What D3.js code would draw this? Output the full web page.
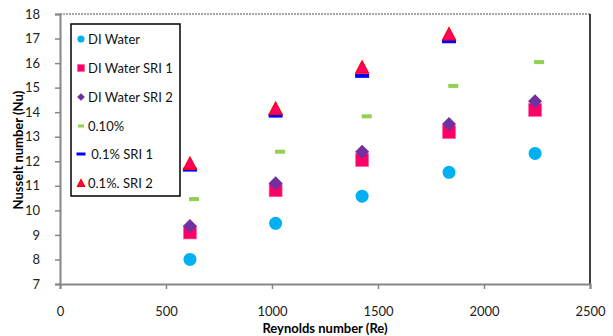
<!DOCTYPE html>
<html>
<head>
<meta charset="utf-8">
<script src="https://cdn.jsdelivr.net/npm/d3@7"></script>
<style>
  body { margin:0; background:#fff; }
  text { font-family: Lato, "Open Sans", sans-serif; }
</style>
</head>
<body>
<svg id="svg1"></svg>
<script>
var W = 613, H = 336;
var margin = {left:60, right:23, top:14, bottom:52};

// Reynolds numbers (x) per series
var reBase = [613, 1017, 1425, 1835, 2241];
var reOffset = [632, 1038, 1447, 1855, 2260];

// Nusselt numbers
var diWater    = [8.0, 9.47, 10.58, 11.55, 12.32];
var diWaterS1  = [9.1, 10.82, 12.05, 13.19, 14.09];
var diWaterS2  = [9.36, 11.1, 12.39, 13.52, 14.45];
var nf010      = [10.46, 12.39, 13.83, 15.07, 16.04];
var nf01S1     = [11.66, 13.86, 15.48, 16.89];
var nf01S2     = [11.92, 14.16, 15.84, 17.2];

var xTicks = [0, 500, 1000, 1500, 2000, 2500];
var yTicks = [7, 8, 9, 10, 11, 12, 13, 14, 15, 16, 17, 18];

var series = [
  {name:"DI Water",        x:reBase,   y:diWater,   shape:"circle"},
  {name:"DI Water SRI 1",  x:reBase,   y:diWaterS1, shape:"square"},
  {name:"DI Water SRI 2",  x:reBase,   y:diWaterS2, shape:"diamond"},
  {name:"0.10%",           x:reOffset, y:nf010,     shape:"greendash"},
  {name:" 0.1% SRI 1",     x:reBase,   y:nf01S1,    shape:"bluedash"},
  {name:"0.1%. SRI 2",     x:reBase,   y:nf01S2,    shape:"triangle"}
];

window.onload = function(){
  var svg1 = d3.select('#svg1').attr('width',W).attr('height',H);
  var x = d3.scaleLinear().domain([0,2500]).range([margin.left, W-margin.right]);
  var y = d3.scaleLinear().domain([7,18]).range([H-margin.bottom, margin.top]);

  // frame: dotted top, black right
  svg1.append('line').attr('x1',x(0)).attr('x2',x(2500)).attr('y1',y(18)).attr('y2',y(18))
    .attr('stroke','#888').attr('stroke-width',1.5).attr('stroke-dasharray','2,1');
  svg1.append('line').attr('x1',x(2500)).attr('x2',x(2500)).attr('y1',y(18)).attr('y2',y(7))
    .attr('stroke','#000').attr('stroke-width',1.5);

  var gx = svg1.append('g').attr('transform','translate(0,'+y(7)+')')
    .call(d3.axisBottom(x).tickValues(xTicks).tickSize(5).tickPadding(18).tickFormat(d3.format('d')));
  var gy = svg1.append('g').attr('transform','translate('+x(0)+',0)')
    .call(d3.axisLeft(y).tickValues(yTicks).tickSize(5).tickPadding(15));
  [gx,gy].forEach(function(g){
    g.select('.domain').attr('stroke','#868686').attr('stroke-width',2);
    g.selectAll('.tick line').attr('stroke','#868686').attr('stroke-width',1.5);
    g.selectAll('.tick text').attr('fill','#222').style('font-size','13px').style('font-family','Lato, sans-serif');
  });

  svg1.append('text').attr('x',325).attr('y',333).attr('text-anchor','middle')
    .style('font-size','13px').style('font-weight','bold').text('Reynolds number (Re)');
  svg1.append('text').attr('transform','translate(23,150) rotate(-90)').attr('text-anchor','middle')
    .style('font-size','13px').style('font-weight','bold').text('Nusselt number (Nu)');

  // points
  series.forEach(function(s){
    var pts = s.y.map(function(v,i){ return {x:s.x[i], y:v}; });
    var g = svg1.append('g');
    pts.forEach(function(d){ drawMarker(g, s.shape, x(d.x), y(d.y), 1); });
  });

  // legend
  var lg = svg1.append('g');
  lg.append('rect').attr('x',71).attr('y',24).attr('width',109).attr('height',172)
    .attr('fill','#fff').attr('stroke','#000').attr('stroke-width',1.5);
  var ly = [39, 68, 97, 126, 154, 183];
  series.forEach(function(s,i){
    drawMarker(lg, s.shape, 81, ly[i], 0.55);
    lg.append('text').attr('x',88).attr('y',ly[i]+5).style('font-size','13px').attr('fill','#111')
      .attr('xml:space','preserve').text(s.name);
  });
};

function drawMarker(g, shape, cx, cy, k){
  if(shape==="circle"){
    g.append('circle').attr('cx',cx).attr('cy',cy).attr('r',6.5*k).attr('fill','#00B0F0');
  } else if(shape==="square"){
    var a = 13*k;
    g.append('rect').attr('x',cx-a/2).attr('y',cy-a/2).attr('width',a).attr('height',a)
      .attr('fill','#FF0066').attr('stroke','#FF66A3').attr('stroke-width',0.6);
  } else if(shape==="diamond"){
    var r = 7*k;
    g.append('path').attr('d','M'+cx+','+(cy-r)+'L'+(cx+r)+','+cy+'L'+cx+','+(cy+r)+'L'+(cx-r)+','+cy+'Z')
      .attr('fill','#7030A0');
  } else if(shape==="greendash"){
    var w = (k<1?6:10), h = (k<1?3:4);
    g.append('rect').attr('x',cx-w/2).attr('y',cy-h/2).attr('width',w).attr('height',h).attr('fill','#92D050');
  } else if(shape==="bluedash"){
    var w2 = (k<1?9:14), h2 = (k<1?3:4);
    g.append('rect').attr('x',cx-w2/2).attr('y',cy-h2/2).attr('width',w2).attr('height',h2).attr('fill','#0000FF');
  } else if(shape==="triangle"){
    var s = 13*k, hh = s*0.95;
    g.append('path').attr('d','M'+cx+','+(cy-hh/2)+'L'+(cx+s/2)+','+(cy+hh/2)+'L'+(cx-s/2)+','+(cy+hh/2)+'Z')
      .attr('fill','#FF0066').attr('stroke','#FF0000').attr('stroke-width',1.2);
  }
}
</script>
</body>
</html>
